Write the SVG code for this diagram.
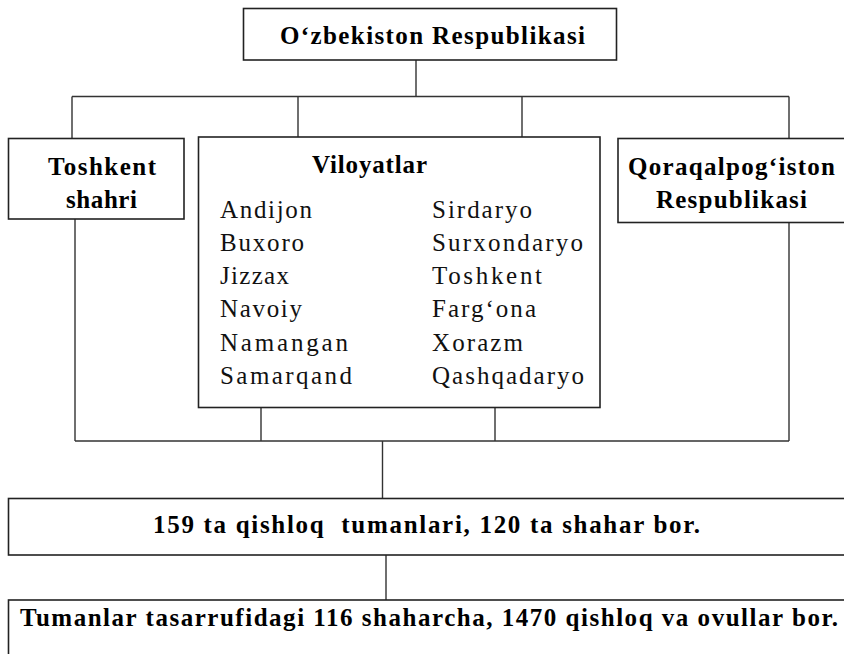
<svg xmlns="http://www.w3.org/2000/svg" width="844" height="654" viewBox="0 0 844 654">
<style>
.box{fill:#fff;stroke:#222;stroke-width:1.6}
.ln{fill:none;stroke:#333;stroke-width:1.4}
.b{font-family:"Liberation Serif","Times New Roman",serif;font-weight:bold;font-size:25px;fill:#000}
.r{font-family:"Liberation Serif","Times New Roman",serif;font-size:25px;fill:#111}
</style>
<rect width="844" height="654" fill="#fff"/>
<g id="connectors">
<path class="ln" d="M416,60 V97 M72,96.5 H789 M72,96.5 V138 M298,96.5 V137 M522,96.5 V137 M789,96.5 V138"/>
<path class="ln" d="M75,219 V441 M261,407 V441 M495,407 V441 M789,222 V441 M75,441 H789 M382.5,441 V498 M386,555 V600"/>
</g>
<g id="uzbekistan">
<rect class="box" x="243.5" y="8.5" width="373" height="51.5"/>
<text class="b" x="280" y="44" textLength="305" lengthAdjust="spacing">O‘zbekiston Respublikasi</text>
</g>
<g id="toshkent-shahri">
<rect class="box" x="8.5" y="138.5" width="175.5" height="80.5"/>
<text class="b" x="48" y="175" textLength="108" lengthAdjust="spacing">Toshkent</text>
<text class="b" x="66" y="208" textLength="71" lengthAdjust="spacing">shahri</text>
</g>
<g id="viloyatlar">
<rect class="box" x="198.5" y="137" width="401.5" height="270.5"/>
<text class="b" x="312" y="173" textLength="115" lengthAdjust="spacing">Viloyatlar</text>
<text class="r" x="220" y="218" textLength="92" lengthAdjust="spacing">Andijon</text>
<text class="r" x="220" y="251" textLength="84" lengthAdjust="spacing">Buxoro</text>
<text class="r" x="220" y="284" textLength="69" lengthAdjust="spacing">Jizzax</text>
<text class="r" x="220" y="317" textLength="82" lengthAdjust="spacing">Navoiy</text>
<text class="r" x="220" y="351" textLength="128" lengthAdjust="spacing">Namangan</text>
<text class="r" x="220" y="384" textLength="132" lengthAdjust="spacing">Samarqand</text>
<text class="r" x="432" y="218" textLength="100" lengthAdjust="spacing">Sirdaryo</text>
<text class="r" x="432" y="251" textLength="151" lengthAdjust="spacing">Surxondaryo</text>
<text class="r" x="432" y="284" textLength="110" lengthAdjust="spacing">Toshkent</text>
<text class="r" x="432" y="317" textLength="104" lengthAdjust="spacing">Farg‘ona</text>
<text class="r" x="432" y="351" textLength="91" lengthAdjust="spacing">Xorazm</text>
<text class="r" x="432" y="384" textLength="152" lengthAdjust="spacing">Qashqadaryo</text>
</g>
<g id="qoraqalpogiston">
<rect class="box" x="618" y="138.5" width="240" height="84"/>
<text class="b" x="628" y="175" textLength="207" lengthAdjust="spacing">Qoraqalpog‘iston</text>
<text class="b" x="656" y="208" textLength="151" lengthAdjust="spacing">Respublikasi</text>
</g>
<g id="tumanlar">
<rect class="box" x="8.5" y="498.5" width="850" height="56.5"/>
<text class="b" x="153" y="533" textLength="547" lengthAdjust="spacing" xml:space="preserve">159 ta qishloq  tumanlari, 120 ta shahar bor.</text>
</g>
<g id="shaharchalar">
<rect class="box" x="8.5" y="600" width="850" height="70"/>
<text class="b" x="20" y="626" textLength="818" lengthAdjust="spacing">Tumanlar tasarrufidagi 116 shaharcha, 1470 qishloq va ovullar bor.</text>
</g>
</svg>
